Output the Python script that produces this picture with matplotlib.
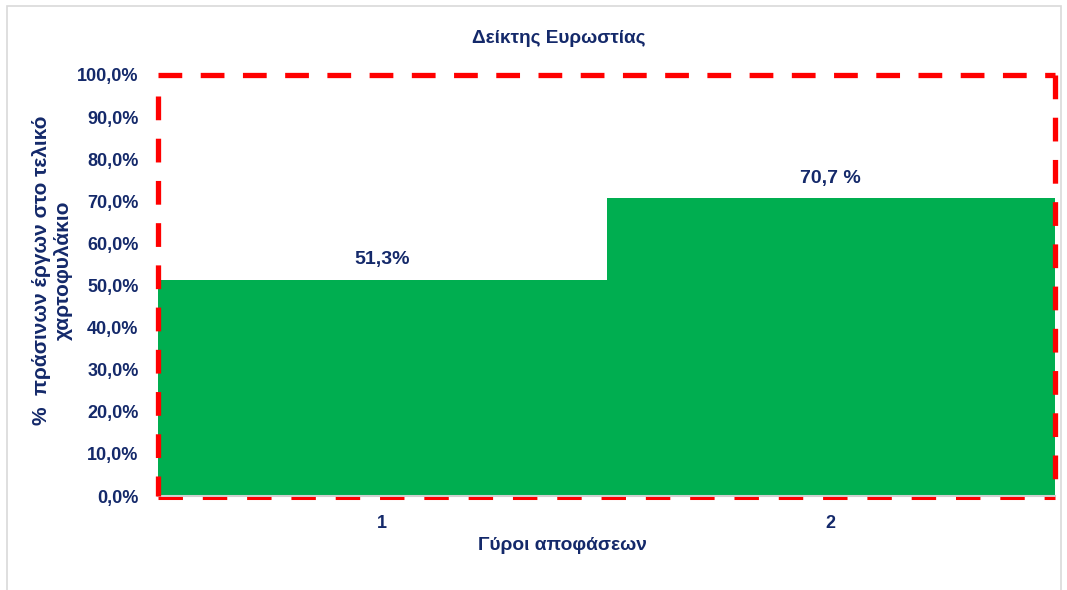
import matplotlib.pyplot as plt
from matplotlib.lines import Line2D
from matplotlib.patches import Rectangle

plt.rcParams['font.family'] = ['Liberation Sans', 'DejaVu Sans']

rounds = ['1', '2']
green_share = [51.3, 70.7]
bar_labels = ['51,3%', '70,7 %']
y_ticks = [0, 10, 20, 30, 40, 50, 60, 70, 80, 90, 100]
y_tick_labels = ['0,0%', '10,0%', '20,0%', '30,0%', '40,0%', '50,0%',
                 '60,0%', '70,0%', '80,0%', '90,0%', '100,0%']

navy = '#14296A'
green = '#00AE50'
red = '#FF0000'

fig = plt.figure(figsize=(10.67, 5.9), dpi=100)
fig.patches.append(Rectangle((0.007, -0.01), 0.987, 1.0, transform=fig.transFigure,
                             fill=False, edgecolor='#D9D9D9', linewidth=1.2))
ax = fig.add_axes([0.1481, 0.1593, 0.8407, 0.7136])

x = range(len(rounds))
bars = ax.bar(x, green_share, width=1.0, color=green, zorder=2)
for b, txt in zip(bars, bar_labels):
    ax.text(b.get_x() + b.get_width() / 2, b.get_height() + 2.8, txt,
            ha='center', va='bottom', fontsize=14, fontweight='bold', color=navy)

ax.set_xlim(-0.5, 1.5)
ax.set_ylim(0, 100)
ax.set_xticks(list(x))
ax.set_xticklabels(rounds)
ax.set_yticks(y_ticks)
ax.set_yticklabels(y_tick_labels)
ax.tick_params(axis='both', length=0, labelsize=13, labelcolor=navy)
ax.tick_params(axis='x', pad=14)
ax.tick_params(axis='y', pad=14)
for lab in ax.get_xticklabels() + ax.get_yticklabels():
    lab.set_fontweight('bold')

for s in ['top', 'left', 'right']:
    ax.spines[s].set_visible(False)
ax.spines['bottom'].set_color('#D0D0D0')
ax.spines['bottom'].set_linewidth(1.5)

# red dashed frame around the plot area
thick = dict(color=red, linewidth=3.8, linestyle=(0, (4.5, 3.5)),
             transform=ax.transAxes, clip_on=False, zorder=5,
             solid_capstyle='butt', dash_capstyle='butt')
ax.add_line(Line2D([0, 1], [1, 1], **thick))
ax.add_line(Line2D([0, 0], [0.95, 0], **thick))
ax.add_line(Line2D([1, 1], [1, 0], **thick))
ax.add_line(Line2D([0, 1], [-0.005, -0.005], color=red, linewidth=2.2,
                   linestyle=(0, (8, 6.5)), transform=ax.transAxes,
                   clip_on=False, zorder=5, dash_capstyle='butt'))

fig.text(0.524, 0.935, 'Δείκτης Ευρωστίας', ha='center', va='center',
         fontsize=13.7, fontweight='bold', color=navy)
fig.text(0.527, 0.076, 'Γύροι αποφάσεων', ha='center', va='center',
         fontsize=13.8, fontweight='bold', color=navy)
fig.text(0.049, 0.542, '%  πράσινων έργων στο τελικό\nχαρτοφυλάκιο', ha='center',
         va='center', rotation=90, fontsize=15, fontweight='bold', color=navy,
         linespacing=1.15)

fig.savefig('out.png', dpi=100)
